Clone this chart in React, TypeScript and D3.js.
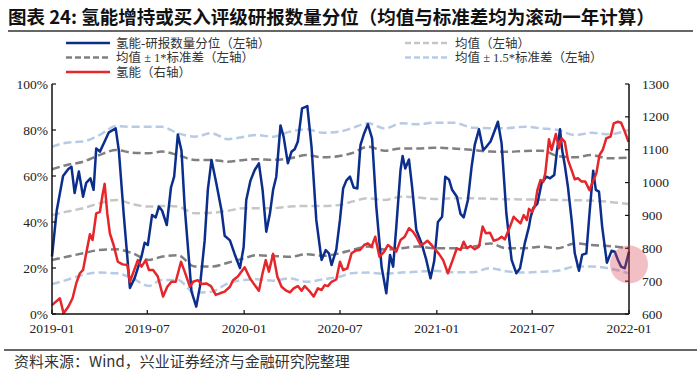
import React from "react";
import * as d3 from "d3";

const blueDates = ["2019-01-01","2019-01-10","2019-01-22","2019-02-01","2019-02-07","2019-02-13","2019-02-21","2019-03-01","2019-03-07","2019-03-15","2019-03-21","2019-03-26","2019-04-02","2019-04-11","2019-04-19","2019-05-02","2019-05-08","2019-05-17","2019-05-29","2019-06-07","2019-06-20","2019-06-26","2019-07-02","2019-07-10","2019-07-17","2019-07-23","2019-07-29","2019-08-07","2019-08-15","2019-08-21","2019-08-28","2019-09-04","2019-09-10","2019-09-23","2019-10-02","2019-10-09","2019-10-18","2019-10-24","2019-10-31","2019-11-09","2019-11-19","2019-11-25","2019-12-05","2019-12-14","2019-12-24","2019-12-31","2020-01-05","2020-01-13","2020-01-21","2020-01-29","2020-02-05","2020-02-12","2020-02-19","2020-02-25","2020-03-02","2020-03-10","2020-03-16","2020-03-24","2020-03-31","2020-04-06","2020-04-12","2020-04-20","2020-04-30","2020-05-08","2020-05-17","2020-05-27","2020-06-04","2020-06-10","2020-06-15","2020-06-24","2020-07-01","2020-07-07","2020-07-13","2020-07-20","2020-07-27","2020-08-03","2020-08-09","2020-08-16","2020-08-23","2020-08-31","2020-09-08","2020-09-18","2020-09-27","2020-10-04","2020-10-10","2020-10-16","2020-10-24","2020-10-28","2020-11-02","2020-11-09","2020-11-15","2020-11-23","2020-12-03","2020-12-12","2020-12-20","2020-12-27","2021-01-03","2021-01-11","2021-01-17","2021-01-24","2021-01-30","2021-02-08","2021-02-15","2021-02-21","2021-03-01","2021-03-08","2021-03-14","2021-03-22","2021-03-30","2021-04-05","2021-04-13","2021-04-19","2021-04-27","2021-05-04","2021-05-13","2021-05-23","2021-06-01","2021-06-08","2021-06-17","2021-06-25","2021-06-28","2021-07-03","2021-07-11","2021-07-19","2021-07-28","2021-08-04","2021-08-12","2021-08-17","2021-08-23","2021-08-27","2021-09-01","2021-09-07","2021-09-14","2021-09-20","2021-09-28","2021-10-04","2021-10-12","2021-10-18","2021-10-25","2021-10-30","2021-11-05","2021-11-11","2021-11-20","2021-11-29","2021-12-05","2021-12-11","2021-12-17","2021-12-24","2022-01-01"];
const blueValues = [25,45,60,63,64,52.6,62,51,57,59,54,72,70.6,75,79,80.7,71,44,11.3,15.6,25,31,30,43,42,46.7,45,38.7,55,59.7,78,71,46.7,9.7,3.2,11.9,32,54,67,57,45,34,32,26,20,29,49.6,58,62.6,65.5,54,35.8,43.8,54,59.7,82,77,65.5,70.6,71.6,75,89.4,90.4,72.7,40.9,23.5,27.8,26.4,21.3,28,40.9,54.6,58,59.7,55,54.6,73.5,78.6,82.5,76.4,46.7,20.6,9,25.7,20.6,38,62.6,68.7,63.3,67.2,55.3,36.5,30.7,23.5,15.5,23,40,42.3,59.7,58.5,54,51,43.5,42,49.6,64,73.5,80.3,71.3,72.7,75,78.6,83.6,74.2,43.8,23.5,17.7,19.9,30.7,38,42,46,48,56.8,59.7,59,60.4,70.6,80.3,71.3,64.8,55.3,40.9,26.4,18.8,25.7,26.4,43.8,62.3,54,53.2,38,22.3,27.5,27.1,23.5,20.6,19.9,27.1];

const redDates = ["2019-01-01","2019-01-08","2019-01-16","2019-01-23","2019-02-01","2019-02-09","2019-02-16","2019-02-23","2019-03-01","2019-03-07","2019-03-14","2019-03-19","2019-03-26","2019-04-02","2019-04-07","2019-04-11","2019-04-16","2019-04-21","2019-04-28","2019-05-06","2019-05-15","2019-05-24","2019-05-29","2019-06-05","2019-06-13","2019-06-20","2019-06-28","2019-07-04","2019-07-12","2019-07-21","2019-07-31","2019-08-08","2019-08-16","2019-08-24","2019-09-03","2019-09-10","2019-09-20","2019-09-26","2019-10-05","2019-10-12","2019-10-21","2019-10-30","2019-11-08","2019-11-16","2019-11-25","2019-12-05","2019-12-11","2019-12-20","2019-12-27","2020-01-02","2020-01-12","2020-01-21","2020-01-29","2020-02-05","2020-02-11","2020-02-17","2020-02-25","2020-03-04","2020-03-12","2020-03-21","2020-03-28","2020-04-04","2020-04-12","2020-04-19","2020-04-25","2020-05-05","2020-05-12","2020-05-20","2020-05-27","2020-06-02","2020-06-08","2020-06-15","2020-06-24","2020-07-01","2020-07-07","2020-07-15","2020-07-23","2020-07-31","2020-08-08","2020-08-16","2020-08-23","2020-08-30","2020-09-06","2020-09-14","2020-09-23","2020-09-30","2020-10-08","2020-10-16","2020-10-24","2020-11-01","2020-11-09","2020-11-17","2020-11-23","2020-12-01","2020-12-08","2020-12-14","2020-12-22","2020-12-27","2021-01-05","2021-01-13","2021-01-22","2021-01-31","2021-02-08","2021-02-15","2021-02-21","2021-02-27","2021-03-06","2021-03-14","2021-03-22","2021-03-29","2021-04-04","2021-04-12","2021-04-19","2021-04-27","2021-05-04","2021-05-10","2021-05-20","2021-05-27","2021-06-02","2021-06-09","2021-06-15","2021-06-21","2021-06-25","2021-07-01","2021-07-06","2021-07-11","2021-07-17","2021-07-22","2021-07-26","2021-08-02","2021-08-07","2021-08-15","2021-08-21","2021-08-26","2021-09-01","2021-09-07","2021-09-14","2021-09-20","2021-09-26","2021-10-03","2021-10-10","2021-10-18","2021-10-23","2021-10-31","2021-11-06","2021-11-12","2021-11-19","2021-11-27","2021-12-03","2021-12-11","2021-12-17","2021-12-24","2021-12-31"];
const redValues = [627,637,648,602,622,648,693,724,734,785,843,825,906,911,962,996,906,845,810,759,751,749,698,729,764,744,764,734,734,714,653,683,698,698,759,729,683,698,703,691,693,685,658,663,668,683,703,714,729,742,709,688,671,724,764,729,783,714,683,671,666,678,685,671,685,668,653,678,673,688,685,698,705,759,734,739,785,793,795,810,815,805,835,774,790,810,800,790,825,835,861,850,835,810,815,823,810,800,783,764,724,764,800,795,820,800,807,797,805,866,846,847,823,827,835,827,866,896,886,876,901,886,920,911,927,977,1008,1003,1028,1132,1099,1148,1104,1135,1124,1069,1038,1010,1013,1003,1003,977,998,1028,1084,1099,1135,1140,1180,1185,1182,1155,1124];

const bandDates = ["2019-01-01","2019-01-29","2019-03-01","2019-04-01","2019-05-03","2019-06-03","2019-07-04","2019-07-28","2019-08-28","2019-09-29","2019-10-31","2019-12-01","2020-01-01","2020-01-24","2020-02-25","2020-03-28","2020-04-29","2020-05-30","2020-06-30","2020-07-23","2020-08-23","2020-09-24","2020-10-26","2020-11-26","2020-12-27","2021-02-01","2021-03-11","2021-04-12","2021-05-13","2021-06-17","2021-07-19","2021-08-19","2021-09-20","2021-10-22","2021-11-22","2021-12-31"];
const upper15 = [72.7,74.5,75,77.8,81.7,81.4,81.4,81.4,78.6,77.1,78.6,76,77.1,77.8,77.1,79.3,80.3,78.8,79.3,80.7,82.9,80.7,82.9,82.5,83.2,83.2,81,80.8,80.8,81.4,80.7,80,77.8,78.8,78.1,80];
const upper1 = [62.9,64.8,66.2,69.1,71.3,70.1,69.9,70.6,69.1,67,67,66.2,67,67.3,67,67.7,69.1,68.1,68.7,69.9,72.7,71,72,72,72.3,72,71.3,70.6,70.5,70.9,71,68.7,68.1,69.1,67.7,68];
const meanVals = [43,44.5,46,48.1,49.6,47.8,46.7,47,46.7,43.8,44,44.9,46,46,46,46.7,47,47,47.4,48.8,50.3,49.6,51,50.7,50,50.3,50.3,50.1,49.9,49.8,49.7,49.6,49.5,49.3,48.8,47.8];
const lower1 = [23.5,24.9,26.4,27.8,28.1,26.4,23.5,24.9,25.6,20.6,20.6,22.3,24.2,25.6,25.2,24.9,26,25.3,26.4,27.8,29.3,28,28.6,29.3,28.6,28.6,29.3,30.7,28.6,28.6,29.3,28.6,30.7,30,29.6,28.6];
const lower15 = [13,14.8,17,18,17.7,15.5,12.2,14.8,14.8,9.3,9.7,13.3,14.8,15.1,14.5,15.5,14,15.1,16.2,17.7,18,17.5,18,18.4,18.8,18.2,18.2,19.9,18.6,18,18.4,18.8,20.6,20.6,19.9,17.7];

const leftTicks = [0, 20, 40, 60, 80, 100];
const rightTicks = [600, 700, 800, 900, 1000, 1100, 1200, 1300];
const xTickLabels = ["2019-01", "2019-07", "2020-01", "2020-07", "2021-01", "2021-07", "2022-01"];
const highlight = { date: "2022-01-01", value: 21.5 };

const title = "图表 24:  氢能增持或买入评级研报数量分位（均值与标准差均为滚动一年计算）";
const source = "资料来源：Wind，兴业证券经济与金融研究院整理";
const legendItems = [
  { label: "氢能-研报数量分位（左轴）", color: "#0b2d8c", dash: null, col: 0, row: 0 },
  { label: "均值（左轴）", color: "#c6c6c6", dash: "6,3", col: 1, row: 0 },
  { label: "均值 ± 1*标准差（左轴）", color: "#808080", dash: "6,3", col: 0, row: 1 },
  { label: "均值 ± 1.5*标准差（左轴）", color: "#b8cbe4", dash: "6,3", col: 1, row: 1 },
  { label: "氢能（右轴）", color: "#e5262a", dash: null, col: 0, row: 2 },
];

const parse = d3.timeParse("%Y-%m-%d");
const parseM = d3.timeParse("%Y-%m");

export default function App() {
  const W = 700, H = 377;
  const left = 52, right = 629, top = 84, bottom = 314;
  const x = d3.scaleTime().domain([parse("2019-01-01")!, parse("2022-01-01")!]).range([left, right]);
  const yL = d3.scaleLinear().domain([0, 100]).range([bottom, top]);
  const yR = d3.scaleLinear().domain([600, 1300]).range([bottom, top]);

  const blue = blueDates.map((d, i) => [parse(d)!, blueValues[i]] as [Date, number]);
  const red = redDates.map((d, i) => [parse(d)!, redValues[i]] as [Date, number]);
  const band = (vals: number[]) => bandDates.map((d, i) => [parse(d)!, vals[i]] as [Date, number]);

  const lineL = d3.line<[Date, number]>().x(d => x(d[0])).y(d => yL(d[1]));
  const lineR = d3.line<[Date, number]>().x(d => x(d[0])).y(d => yR(d[1]));
  const smoothL = d3.line<[Date, number]>().x(d => x(d[0])).y(d => yL(d[1])).curve(d3.curveMonotoneX);

  const serif = "'Liberation Serif', 'Times New Roman', serif";
  const cjk = "'Noto Sans CJK SC', sans-serif";
  const mixed = "'Liberation Serif', 'Noto Sans CJK SC', serif";
  const dash = "8,4";

  return (
    <svg width={W} height={H} style={{ position: "absolute", left: 0, top: 0, background: "#fff" }}>
      <rect x={0} y={0} width={W} height={H} fill="#fff" />
      <text x={8} y={24} fontFamily={cjk} fontWeight="bold" fontSize={18.5} fill="#111">{title}</text>
      <line x1={8} x2={693} y1={31} y2={31} stroke="#333" strokeWidth={1.5} />

      {legendItems.map((it, i) => {
        const lx = it.col === 0 ? 66 : 405;
        const ly = 43 + it.row * 14.5;
        return (
          <g key={i}>
            <line x1={lx} x2={lx + 44} y1={ly} y2={ly} stroke={it.color} strokeWidth={2.5} strokeDasharray={it.dash || undefined} />
            <text x={lx + 50} y={ly + 4.5} fontFamily={mixed} fontSize={12.5} fill="#333">{it.label}</text>
          </g>
        );
      })}

      {/* bands */}
      <path d={smoothL(band(upper15))!} fill="none" stroke="#b8cbe4" strokeWidth={2.5} strokeDasharray={dash} />
      <path d={smoothL(band(lower15))!} fill="none" stroke="#b8cbe4" strokeWidth={2.5} strokeDasharray={dash} />
      <path d={smoothL(band(meanVals))!} fill="none" stroke="#c6c6c6" strokeWidth={2.5} strokeDasharray={dash} />
      <path d={smoothL(band(upper1))!} fill="none" stroke="#808080" strokeWidth={2.5} strokeDasharray={dash} />
      <path d={smoothL(band(lower1))!} fill="none" stroke="#808080" strokeWidth={2.5} strokeDasharray={dash} />

      <path d={lineL(blue)!} fill="none" stroke="#0b2d8c" strokeWidth={2.5} strokeLinejoin="round" />
      <path d={lineR(red)!} fill="none" stroke="#e5262a" strokeWidth={2.5} strokeLinejoin="round" />

      {/* axes */}
      <line x1={left} x2={left} y1={top} y2={bottom} stroke="#111" strokeWidth={1.5} />
      <line x1={right} x2={right} y1={top} y2={bottom} stroke="#111" strokeWidth={1.5} />
      <line x1={left} x2={right} y1={bottom} y2={bottom} stroke="#111" strokeWidth={1.5} />
      {leftTicks.map(t => (
        <g key={"l" + t}>
          <line x1={left} x2={left + 4} y1={yL(t)} y2={yL(t)} stroke="#111" strokeWidth={1.2} />
          <text x={left - 4} y={yL(t) + 4.5} textAnchor="end" fontFamily={serif} fontSize={13.5} fill="#222">{t + "%"}</text>
        </g>
      ))}
      {rightTicks.map(t => (
        <g key={"r" + t}>
          <line x1={right - 4} x2={right} y1={yR(t)} y2={yR(t)} stroke="#111" strokeWidth={1.2} />
          <text x={right + 13} y={yR(t) + 4.5} textAnchor="start" fontFamily={serif} fontSize={13.5} fill="#222">{t}</text>
        </g>
      ))}
      {xTickLabels.map(t => {
        const xx = x(parseM(t)!);
        return (
          <g key={"x" + t}>
            <line x1={xx} x2={xx} y1={bottom} y2={bottom - 4} stroke="#111" strokeWidth={1.2} />
            <text x={xx} y={bottom + 19} textAnchor="middle" fontFamily={serif} fontSize={13.5} fill="#222">{t}</text>
          </g>
        );
      })}

      <circle cx={x(parse(highlight.date)!)} cy={yL(highlight.value)} r={19} fill="#d9475a" opacity={0.35} />

      <line x1={4} x2={697} y1={350} y2={350} stroke="#333" strokeWidth={1.5} />
      <text x={14} y={367} fontFamily={cjk} fontSize={15} fill="#333">{source}</text>
    </svg>
  );
}
